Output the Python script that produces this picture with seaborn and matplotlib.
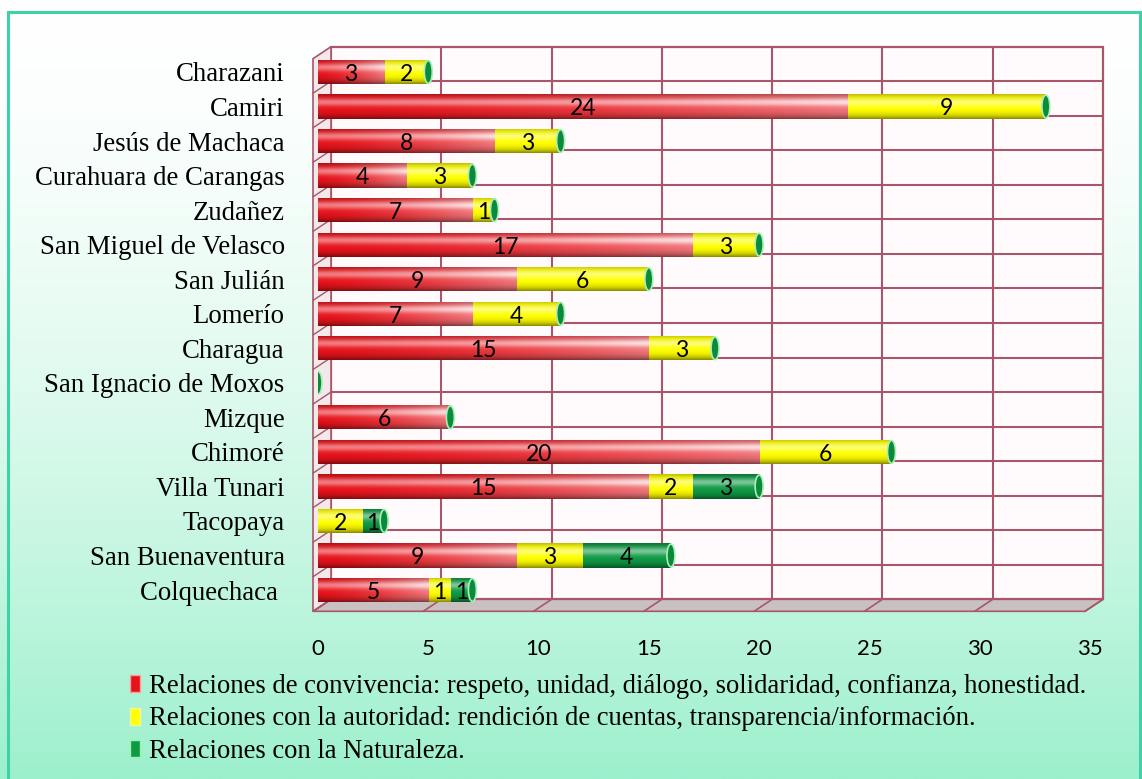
import numpy as np
import pandas as pd
import matplotlib
matplotlib.use("Agg")
import matplotlib.pyplot as plt
import matplotlib.transforms as mtransforms
from matplotlib.patches import Rectangle, Ellipse, Polygon, Patch
from matplotlib.colors import to_rgb
import seaborn as sns

# ---------------- data ----------------
municipios = ["Charazani", "Camiri", "Jesús de Machaca", "Curahuara de Carangas",
              "Zudañez", "San Miguel de Velasco", "San Julián", "Lomerío",
              "Charagua", "San Ignacio de Moxos", "Mizque", "Chimoré",
              "Villa Tunari", "Tacopaya", "San Buenaventura", "Colquechaca "]
convivencia = [3, 24, 8, 4, 7, 17, 9, 7, 15, 0, 6, 20, 15, 0, 9, 5]
autoridad = [2, 9, 3, 3, 1, 3, 6, 4, 3, 0, 0, 6, 2, 2, 3, 1]
naturaleza = [0, 0, 0, 0, 0, 0, 0, 0, 0, 0, 0, 0, 3, 1, 4, 1]
x_ticks = [0, 5, 10, 15, 20, 25, 30, 35]
series_labels = [
    "Relaciones de convivencia: respeto, unidad, diálogo, solidaridad, confianza, honestidad.",
    "Relaciones con la autoridad: rendición de cuentas, transparencia/información.",
    "Relaciones con la Naturaleza.",
]

RED, YELLOW, GREEN = "#e8121a", "#ffff00", "#0f9a45"
GRID = "#a9566a"

df = pd.DataFrame({"municipio": municipios, "conv": convivencia,
                   "aut": autoridad, "nat": naturaleza})
df["c2"] = df["conv"] + df["aut"]
df["c3"] = df["c2"] + df["nat"]

# ---------------- figure ----------------
sns.set_theme(style="white")
plt.rcParams["font.family"] = ["Liberation Serif", "DejaVu Sans"]
plt.rcParams["text.color"] = "black"
W, H = 1142, 779
fig = plt.figure(figsize=(W / 100, H / 100), dpi=100)

# background gradient + frame
bg = fig.add_axes([0, 0, 1, 1], zorder=-10)
bg.axis("off")
t = np.linspace(0, 1, 400) ** 1.6
top_c, bot_c = np.array([1, 1, 1]), np.array(to_rgb("#9cf0cc"))
grad = (top_c[None, :] * (1 - t[:, None]) + bot_c[None, :] * t[:, None])[:, None, :]
bg.imshow(grad, aspect="auto", extent=[0, 1, 0, 1], origin="upper")
bg.set_xlim(0, 1); bg.set_ylim(0, 1)
bg.add_patch(Rectangle((8 / W, -0.01), (1140 - 8) / W, 1.01 - 12 / H, fill=False,
                       ec="#3dd3a6", lw=2.2, transform=bg.transAxes))

ax = fig.add_axes([318 / W, 1 - 607.3 / H, 772 / W, 552.6 / H])
ax.patch.set_alpha(0)

sns.barplot(data=df, x="c3", y="municipio", color=GREEN, orient="h", width=0.7,
            saturation=1, ax=ax)
sns.barplot(data=df, x="c2", y="municipio", color=YELLOW, orient="h", width=0.7,
            saturation=1, ax=ax)
sns.barplot(data=df, x="conv", y="municipio", color=RED, orient="h", width=0.7,
            saturation=1, ax=ax)


def shade_img(base, horiz_light=0.0, n=60, m=80):
    b = np.array(to_rgb(base))
    tt = np.linspace(0, 1, n)[:, None]
    ss = np.linspace(0, 1, m)[None, :]
    hl = 0.45 * np.exp(-((tt - 0.32) / 0.16) ** 2)
    dk = 0.35 * (np.abs(tt - 0.45) * 2) ** 3
    light = np.clip(hl + horiz_light * ss ** 1.5, 0, 1)
    img = b[None, None, :] * (1 - light[..., None]) + light[..., None]
    img = img * (1 - dk[..., None])
    return np.clip(img, 0, 1)


zs = [3, 4, 5]
cols = [GREEN, YELLOW, RED]
hls = [0.0, 0.0, 0.42]
for k, cont in enumerate(ax.containers):
    img = shade_img(cols[k], hls[k])
    for p in cont.patches:
        p.set_zorder(zs[k])
        p.set_edgecolor("none")
        w = p.get_width()
        if w <= 0:
            continue
        x0, y0, h = p.get_x(), p.get_y(), p.get_height()
        im = ax.imshow(img, extent=[x0, x0 + w, y0 + h, y0], origin="upper",
                       aspect="auto", zorder=zs[k] + 0.1, interpolation="bilinear")
        im.set_clip_path(p)

ax.set_xlim(0, 35)
ax.set_ylim(15.5, -0.5)

# end caps
for i, tot in enumerate(df["c3"]):
    ax.add_patch(Ellipse((tot, i), 0.36, 0.66, fc="#0b8a3c", ec="#a8f0b8",
                         lw=1.2, zorder=6))

# value labels
for i in range(len(municipios)):
    segs = [(0, convivencia[i]), (convivencia[i], autoridad[i]),
            (convivencia[i] + autoridad[i], naturaleza[i])]
    for left, v in segs:
        if v > 0:
            ax.text(left + v / 2, i + 0.07, str(v), ha="center", va="center",
                    fontsize=16.5, family="Lato", color="black", zorder=8)

# 3-D wall, floor, left side
ax.figure.canvas.draw()
back = mtransforms.ScaledTranslation(13 / 100, 8 / 100, fig.dpi_scale_trans)
tw = ax.transData + back
ax.add_patch(Rectangle((0, -0.5), 35, 16, transform=tw, fc="#fffbfc", ec=GRID,
                       lw=1.6, zorder=0.5, clip_on=False))
for v in x_ticks[1:-1]:
    ax.plot([v, v], [-0.5, 15.5], transform=tw, color=GRID, lw=1.5,
            zorder=1, clip_on=False)
for k in range(15):
    ax.plot([0, 35], [k + 0.5, k + 0.5], transform=tw, color=GRID, lw=1.5,
            zorder=1, clip_on=False)


def front(x, y):
    px = ax.transData.transform((x, y))
    return (px[0] - 5, px[1] - 4)


def backp(x, y):
    px = ax.transData.transform((x, y))
    return (px[0] + 13, px[1] + 8)


ident = mtransforms.IdentityTransform()
floor = Polygon([front(0, 15.5), front(35, 15.5), backp(35, 15.5), backp(0, 15.5)],
                closed=True, fc="#c9c0c2", ec=GRID, lw=1.2, transform=ident,
                zorder=0.8, clip_on=False)
ax.add_patch(floor)
for v in x_ticks:
    a, b = front(v, 15.5), backp(v, 15.5)
    ax.plot([a[0], b[0]], [a[1], b[1]], transform=ident, color=GRID, lw=1.2,
            zorder=0.9, clip_on=False)
lw_poly = Polygon([front(0, -0.5), backp(0, -0.5), backp(0, 15.5), front(0, 15.5)],
                  closed=True, fc="#f3e8ea", ec=GRID, lw=1.2, transform=ident,
                  zorder=0.8, clip_on=False)
ax.add_patch(lw_poly)
for k in range(15):
    a, b = front(0, k + 0.5), backp(0, k + 0.5)
    ax.plot([a[0], b[0]], [a[1], b[1]], transform=ident, color=GRID, lw=1.0,
            zorder=0.9, clip_on=False)

# axes styling
for s in ax.spines.values():
    s.set_visible(False)
ax.grid(False)
ax.set_xlabel("")
ax.set_ylabel("")
ax.set_xticks(x_ticks)
ax.set_xticklabels([str(v) for v in x_ticks], family="Lato", fontsize=16)
ax.tick_params(axis="x", length=0, pad=23, colors="black")
ax.tick_params(axis="y", length=0, pad=24, colors="black", labelsize=19.3)
for lab in ax.get_yticklabels():
    lab.set_family("Liberation Serif")

# legend
handles = [Patch(fc=RED, ec="#f7a0a0", lw=1), Patch(fc=YELLOW, ec="#f5f5a0", lw=1),
           Patch(fc=GREEN, ec="#a0f0b0", lw=1)]
fig.legend(handles, series_labels, loc="upper left",
           bbox_to_anchor=(130 / W, 1 - 674 / H), frameon=False,
           prop={"family": "Liberation Serif", "size": 19.2},
           handlelength=0.38, handleheight=0.6, handletextpad=0.35,
           labelspacing=0.28, borderaxespad=0, borderpad=0)

fig.savefig("out.png", dpi=100)
